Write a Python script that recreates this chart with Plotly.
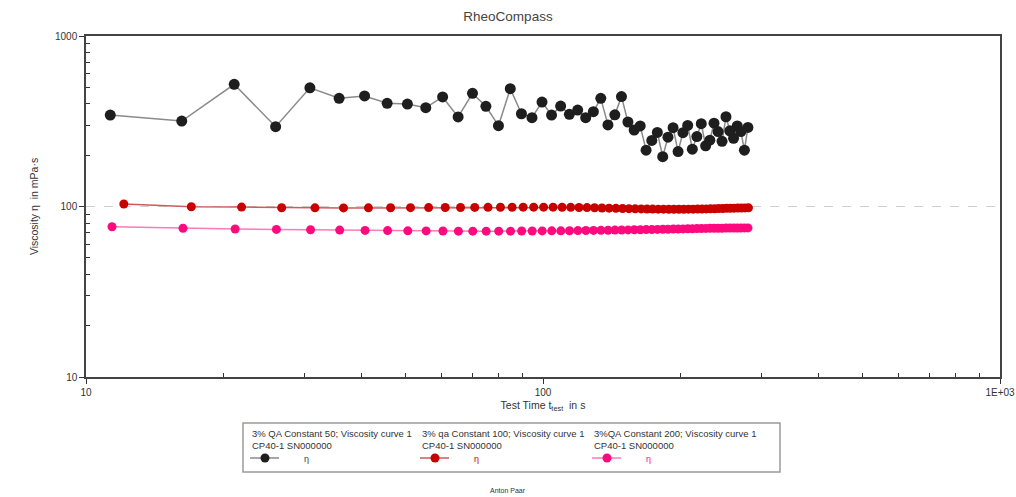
import plotly.graph_objects as go

# ---------------- data ----------------
time_qa50 = [11.3, 16.2, 21.1, 26.0, 30.9, 35.8, 40.7, 45.6, 50.5, 55.4,
             60.3, 65.2, 70.1, 75.0, 79.9, 84.8, 89.7, 94.6, 99.5, 104.4,
             109.3, 114.2, 119.1, 124.0, 128.9, 133.8, 138.7, 143.6, 148.5, 153.4,
             158.3, 163.2, 168.1, 173.0, 177.9, 182.8, 187.7, 192.6, 197.5, 202.4,
             207.3, 212.2, 217.1, 222.0, 226.9, 231.8, 236.7, 241.6, 246.5, 251.4,
             256.3, 261.2, 266.1, 271.0, 275.9, 280.8]
eta_qa50 = [344, 317, 521, 294, 497, 431, 445, 403, 399, 380,
            439, 335, 461, 387, 298, 491, 350, 332, 410, 344,
            388, 347, 368, 332, 360, 431, 301, 345, 441, 313,
            281, 297, 214, 244, 272, 196, 255, 290, 210, 271,
            299, 217, 257, 306, 227, 245, 308, 275, 241, 336,
            278, 251, 297, 275, 214, 291]

time_qa100 = [12.1, 17.0, 21.9, 26.8, 31.7, 36.6, 41.5, 46.4, 51.3, 56.2,
              61.1, 66.0, 70.9, 75.8, 80.7, 85.6, 90.5, 95.4, 100.3, 105.2,
              110.1, 115.0, 119.9, 124.8, 129.7, 134.6, 139.5, 144.4, 149.3, 154.2,
              159.1, 164.0, 168.9, 173.8, 178.7, 183.6, 188.5, 193.4, 198.3, 203.2,
              208.1, 213.0, 217.9, 222.8, 227.7, 232.6, 237.5, 242.4, 247.3, 252.2,
              257.1, 262.0, 266.9, 271.8, 276.7, 281.6]
eta_qa100 = [103.5, 99.6, 99.2, 98.3, 98.2, 98.1, 98.2, 98.3, 98.4, 98.5,
             98.6, 98.7, 98.8, 98.9, 99.0, 99.0, 99.1, 99.1, 99.1, 99.1,
             99.0, 98.9, 98.7, 98.5, 98.3, 98.0, 97.8, 97.5, 97.3, 97.1,
             96.9, 96.8, 96.7, 96.6, 96.5, 96.5, 96.4, 96.4, 96.4, 96.4,
             96.5, 96.5, 96.6, 96.7, 96.8, 96.9, 97.0, 97.2, 97.3, 97.5,
             97.6, 97.8, 97.9, 98.0, 98.1, 98.2]

time_qa200 = [11.4, 16.3, 21.2, 26.1, 31.0, 35.9, 40.8, 45.7, 50.6, 55.5,
              60.4, 65.3, 70.2, 75.1, 80.0, 84.9, 89.8, 94.7, 99.6, 104.5,
              109.4, 114.3, 119.2, 124.1, 129.0, 133.9, 138.8, 143.7, 148.6, 153.5,
              158.4, 163.3, 168.2, 173.1, 178.0, 182.9, 187.8, 192.7, 197.6, 202.5,
              207.4, 212.3, 217.2, 222.1, 227.0, 231.9, 236.8, 241.7, 246.6, 251.5,
              256.4, 261.3, 266.2, 271.1, 276.0, 280.9]
eta_qa200 = [76.1, 74.5, 73.8, 73.4, 73.0, 72.7, 72.4, 72.2, 72.0, 71.9,
             71.8, 71.7, 71.7, 71.7, 71.7, 71.7, 71.8, 71.8, 71.9, 72.0,
             72.0, 72.1, 72.2, 72.3, 72.4, 72.5, 72.6, 72.7, 72.8, 72.9,
             73.0, 73.1, 73.2, 73.3, 73.4, 73.5, 73.6, 73.7, 73.8, 73.9,
             74.0, 74.1, 74.2, 74.3, 74.4, 74.5, 74.5, 74.6, 74.6, 74.7,
             74.7, 74.8, 74.8, 74.8, 74.9, 74.9]

series_names = ["3% QA Constant 50; Viscosity curve 1",
                "3% qa Constant 100; Viscosity curve 1",
                "3%QA Constant 200; Viscosity curve 1"]
device_label = "CP40-1 SN000000"

x_tickvals = [10, 100, 1000]
x_ticktext = ["10", "100", "1E+03"]
x_minor = [20, 30, 40, 50, 60, 70, 80, 90, 200, 300, 400, 500, 600, 700, 800, 900]
y_tickvals = [10, 100, 1000]
y_ticktext = ["10", "100", "1000"]
y_minor = [20, 30, 40, 50, 60, 70, 80, 90, 200, 300, 400, 500, 600, 700, 800, 900]

# ---------------- styles ----------------
OX, OY = 0, 0
W, H = 1016, 497
FONT = "Liberation Sans, Arial, sans-serif"
marker_colors = ["#1e1e1e", "#c80000", "#ff0a7e"]
line_colors = ["#8a8a8a", "#cf5a5a", "#ff7ab8"]
marker_sizes = [11, 9, 9]


def px(p):
    return (p - OX) / W


def py(p):
    return 1 - (p - OY) / H


# plot area in window pixels
PL, PR, PT, PB = 86, 1000, 36, 377

fig = go.Figure()

for t, e, name, mc, lc, ms in zip([time_qa50, time_qa100, time_qa200],
                                  [eta_qa50, eta_qa100, eta_qa200],
                                  series_names, marker_colors, line_colors, marker_sizes):
    fig.add_trace(go.Scatter(
        x=t, y=e, mode="lines+markers", name=name,
        line=dict(color=lc, width=1.5),
        marker=dict(color=mc, size=ms, line=dict(width=0)),
        showlegend=False, xaxis="x", yaxis="y"))

# ---------------- custom legend (below chart) ----------------
LBX0, LBX1, LBY0, LBY1 = 243, 780, 423, 472
legend_cols = [250, 420, 592]
for i, (name, mc, lc, ms) in enumerate(zip(series_names, marker_colors, line_colors, marker_sizes)):
    cx = legend_cols[i]
    fig.add_trace(go.Scatter(
        x=[cx, cx + 29], y=[458, 458], mode="lines",
        line=dict(color=lc, width=1.5),
        showlegend=False, hoverinfo="skip", xaxis="x2", yaxis="y2"))
    fig.add_trace(go.Scatter(
        x=[cx + 15], y=[458], mode="markers",
        marker=dict(color=mc, size=9, line=dict(width=0), opacity=1),
        showlegend=False, hoverinfo="skip", xaxis="x2", yaxis="y2"))

annotations = []
for i, (name, mc) in enumerate(zip(series_names, marker_colors)):
    cx = legend_cols[i]
    annotations.append(dict(
        x=px(cx), y=py(426), xref="paper", yref="paper",
        text=name + "<br>" + device_label, showarrow=False,
        xanchor="left", yanchor="top", align="left",
        font=dict(family=FONT, size=9.5, color="#333")))
    annotations.append(dict(
        x=px(cx + 56), y=py(459), xref="paper", yref="paper",
        text="η", showarrow=False, xanchor="center", yanchor="middle",
        font=dict(family=FONT, size=9, color=mc if i else "#444")))

annotations.append(dict(
    x=px(508), y=py(490), xref="paper", yref="paper", text="Anton Paar",
    showarrow=False, xanchor="center", yanchor="middle",
    font=dict(family=FONT, size=7, color="#333")))

shapes = [dict(type="rect", xref="paper", yref="paper", layer="below",
               x0=px(LBX0), x1=px(LBX1), y0=py(LBY1), y1=py(LBY0),
               line=dict(color="#9a9a9a", width=1.5), fillcolor="rgba(0,0,0,0)")]

fig.update_layout(
    width=W, height=H,
    margin=dict(l=0, r=0, t=0, b=0, autoexpand=False),
    paper_bgcolor="white", plot_bgcolor="white",
    font=dict(family=FONT, color="#333"),
    title=dict(text="RheoCompass", x=px(508), xanchor="center", y=py(16), yanchor="middle",
               font=dict(family=FONT, size=13.5, color="#444")),
    xaxis=dict(type="log", range=[1, 3], domain=[px(PL), px(PR)], anchor="y", automargin=False,
               tickvals=x_tickvals, ticktext=x_ticktext, ticks="outside", ticklen=5,
               tickcolor="#333", tickfont=dict(size=10, color="#333"),
               minor=dict(tickvals=x_minor, ticks="inside", ticklen=4, tickcolor="#333", showgrid=False),
               showgrid=False, zeroline=False, showline=True, linecolor="#444", linewidth=1.5,
               mirror=True,
               title=dict(text="Test Time t<sub>test</sub>  in s", standoff=5,
                          font=dict(size=10.5, color="#333"))),
    yaxis=dict(type="log", range=[1, 3], domain=[py(PB), py(PT)], anchor="x", automargin=False,
               tickvals=y_tickvals, ticktext=y_ticktext, ticks="outside", ticklen=5,
               tickcolor="#333", tickfont=dict(size=10, color="#333"),
               minor=dict(tickvals=y_minor, ticks="inside", ticklen=4, tickcolor="#333", showgrid=False),
               showgrid=True, gridcolor="#cfcfcf", griddash="dash", gridwidth=1,
               zeroline=False, showline=True, linecolor="#444", linewidth=1.5, mirror=True,
               title=dict(text="Viscosity η  in mPa·s", standoff=14,
                          font=dict(size=10.5, color="#333"))),
    xaxis2=dict(domain=[px(LBX0), px(LBX1)], range=[LBX0, LBX1], anchor="y2", visible=False,
                fixedrange=True),
    yaxis2=dict(domain=[py(LBY1), py(LBY0)], range=[LBY1, LBY0], anchor="x2", visible=False,
                fixedrange=True),
    annotations=annotations,
    shapes=shapes,
    showlegend=False,
)

fig.write_html("out.html",
               config={"displayModeBar": False},
               post_script="document.body.style.margin='0px';document.body.style.overflow='hidden';")
